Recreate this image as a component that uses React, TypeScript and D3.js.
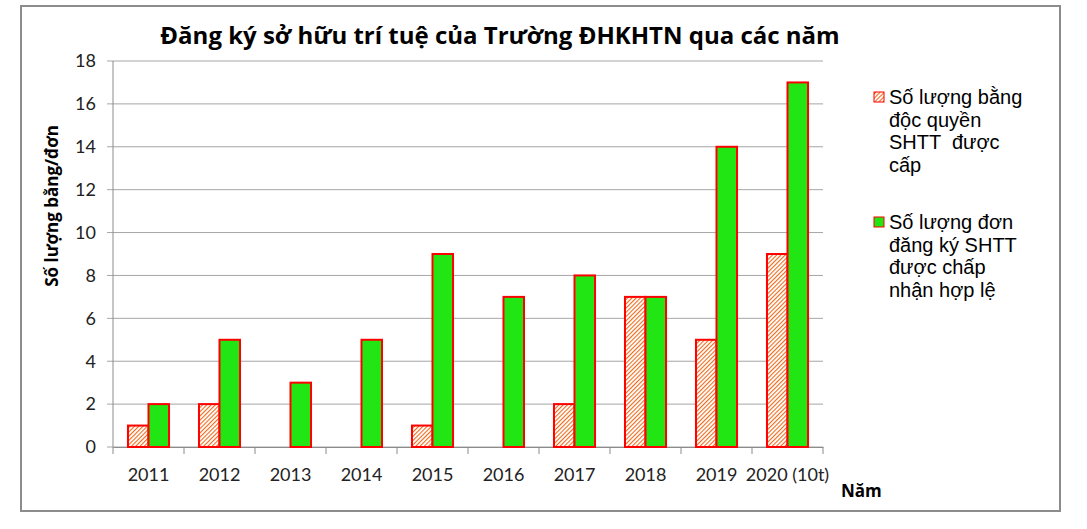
import * as d3 from 'd3'
import { useRef, useEffect } from 'react'

const years = ['2011', '2012', '2013', '2014', '2015', '2016', '2017', '2018', '2019', '2020 (10t)']
const granted = [1, 2, 0, 0, 1, 0, 2, 7, 5, 9]
const applied = [2, 5, 3, 5, 9, 7, 8, 7, 14, 17]
const yTicks = [0, 2, 4, 6, 8, 10, 12, 14, 16, 18]
const seriesNames = ['Số lượng bằng độc quyền SHTT được cấp', 'Số lượng đơn đăng ký SHTT được chấp nhận hợp lệ']
const legendLines = [
  ['Số lượng bằng', 'độc quyền', 'SHTT  được', 'cấp'],
  ['Số lượng đơn', 'đăng ký SHTT', 'được chấp', 'nhận hợp lệ'],
]

const W = 1087
const H = 529
const plot = { left: 113, right: 823, top: 61, bottom: 447 }

export default function App() {
  const svgRef = useRef(null)

  useEffect((): void => {
    const SVG = d3.select(svgRef.current)
    SVG.selectAll('*').remove()

    const defs = SVG.append('defs')
    const pat = defs.append('pattern')
      .attr('id', 'hatch')
      .attr('patternUnits', 'userSpaceOnUse')
      .attr('width', 3)
      .attr('height', 3)
      .attr('patternTransform', 'rotate(45)')
    pat.append('rect').attr('width', 3).attr('height', 3).attr('fill', '#ffffff')
    pat.append('line')
      .attr('x1', 0).attr('y1', 0).attr('x2', 0).attr('y2', 3)
      .attr('stroke', '#ee6a1c').attr('stroke-width', 2.2)

    // outer frame
    SVG.append('rect')
      .attr('x', 21).attr('y', 6)
      .attr('width', 1039).attr('height', 505)
      .attr('fill', '#ffffff')
      .attr('stroke', '#8c8c8c')
      .attr('stroke-width', 2)

    const yScale = d3.scaleLinear().domain([0, 18]).range([plot.bottom, plot.top])
    const xScale = d3.scaleBand<string>().domain(years).range([plot.left, plot.right])
    const inner = d3.scaleBand<number>().domain([0, 1]).range([0, xScale.bandwidth()])
      .paddingInner(0).paddingOuter(0.73)

    // gridlines
    SVG.append('g')
      .selectAll('line')
      .data(yTicks)
      .enter()
      .append('line')
      .attr('x1', plot.left - 6)
      .attr('x2', plot.right)
      .attr('y1', d => yScale(d))
      .attr('y2', d => yScale(d))
      .attr('stroke', '#a6a6a6')
      .attr('stroke-width', 1)

    // y axis line
    SVG.append('line')
      .attr('x1', plot.left).attr('x2', plot.left)
      .attr('y1', plot.top).attr('y2', plot.bottom)
      .attr('stroke', '#8c8c8c')

    // y tick labels
    SVG.append('g')
      .selectAll('text')
      .data(yTicks)
      .enter()
      .append('text')
      .attr('x', 96)
      .attr('y', d => yScale(d))
      .attr('dy', '0.35em')
      .attr('text-anchor', 'end')
      .attr('font-family', 'Lato, "Open Sans", sans-serif')
      .attr('font-size', 18)
      .attr('fill', '#222')
      .text(d => d)

    // x axis
    const xAxis = d3.axisBottom(xScale).tickSize(0).tickFormat(d => d)
    const gx = SVG.append('g')
      .attr('transform', `translate(0,${plot.bottom})`)
      .call(xAxis)
    gx.select('.domain').attr('stroke', '#8c8c8c')
    gx.selectAll('text')
      .attr('dy', 0)
      .attr('y', 34)
      .attr('font-family', 'Lato, "Open Sans", sans-serif')
      .attr('font-size', 18)
      .attr('fill', '#222')
    SVG.append('g')
      .selectAll('line')
      .data([...years.map(y => xScale(y)!), plot.right])
      .enter()
      .append('line')
      .attr('x1', d => d).attr('x2', d => d)
      .attr('y1', plot.bottom).attr('y2', plot.bottom + 7)
      .attr('stroke', '#8c8c8c')

    // bars
    const series = [granted, applied]
    const fills = ['url(#hatch)', '#22e614']
    series.forEach((vals, si) => {
      SVG.append('g')
        .selectAll('rect')
        .data(vals.map((v, i) => ({ v, year: years[i] })).filter(d => d.v > 0))
        .enter()
        .append('rect')
        .attr('x', d => xScale(d.year)! + inner(si)!)
        .attr('y', d => yScale(d.v))
        .attr('width', inner.bandwidth())
        .attr('height', d => yScale(0) - yScale(d.v))
        .attr('fill', fills[si])
        .attr('stroke', '#ff0000')
        .attr('stroke-width', 2)
    })

    // title
    SVG.append('text')
      .attr('x', 500)
      .attr('y', 44)
      .attr('text-anchor', 'middle')
      .attr('font-family', '"Open Sans", sans-serif')
      .attr('font-weight', 'bold')
      .attr('font-size', 24)
      .attr('fill', '#000')
      .text('Đăng ký sở hữu trí tuệ của Trường ĐHKHTN qua các năm')

    // y axis title
    SVG.append('text')
      .attr('transform', 'translate(58,206) rotate(-90)')
      .attr('text-anchor', 'middle')
      .attr('font-family', '"Open Sans", sans-serif')
      .attr('font-weight', 'bold')
      .attr('font-size', 17)
      .attr('fill', '#000')
      .text('Số lượng bằng/đơn')

    // x axis title
    SVG.append('text')
      .attr('x', 841)
      .attr('y', 497)
      .attr('font-family', '"Open Sans", sans-serif')
      .attr('font-weight', 'bold')
      .attr('font-size', 17)
      .attr('fill', '#000')
      .text('Năm')

    // legend
    const lg = SVG.append('g').attr('aria-label', seriesNames.join('; '))
    legendLines.forEach((lines, li) => {
      const top = 97 + li * 125
      lg.append('rect')
        .attr('x', 874).attr('y', top - 5)
        .attr('width', 10).attr('height', 10)
        .attr('fill', fills[li])
        .attr('stroke', '#ff0000')
        .attr('stroke-width', 1)
      lines.forEach((t, k) => {
        lg.append('text')
          .attr('x', 889)
          .attr('y', top + k * 22.7)
          .attr('dy', '0.35em')
          .attr('font-family', '"Liberation Sans", Arial, sans-serif')
          .attr('font-size', 20)
          .attr('fill', '#000')
          .attr('xml:space', 'preserve')
          .text(t)
      })
    })
  }, [])

  return (
    <svg
      ref={svgRef}
      width={W}
      height={H}
      style={{ position: 'absolute', left: 0, top: 0, background: '#fff' }}
    />
  )
}
